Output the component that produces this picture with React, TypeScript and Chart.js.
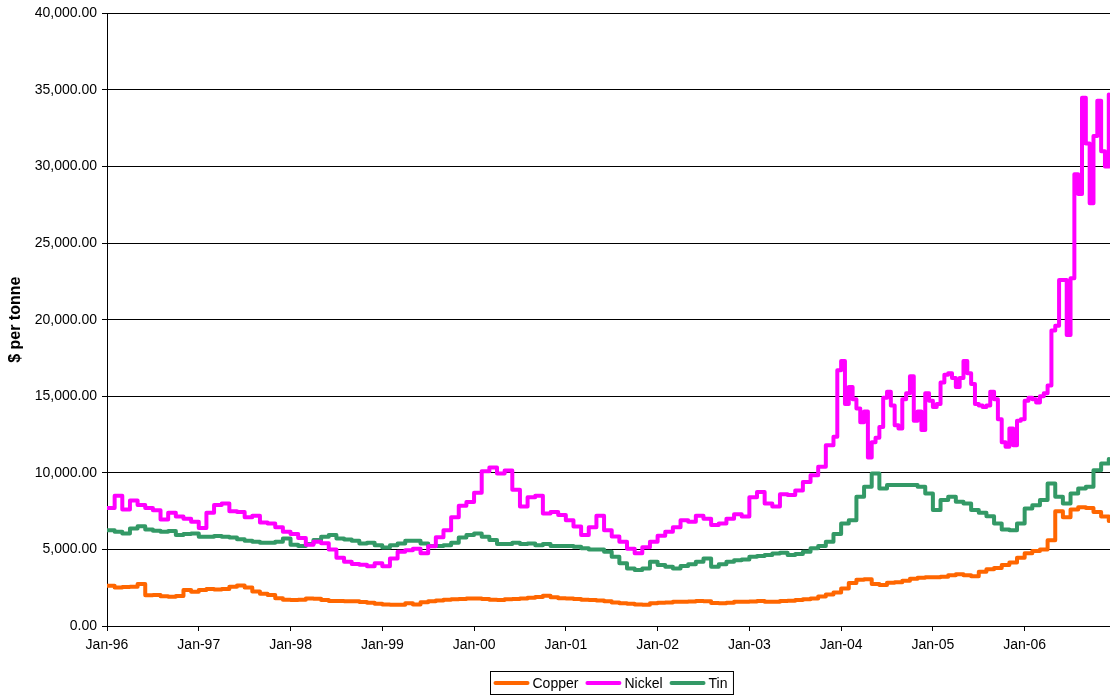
import React, { useEffect, useRef } from "react";
import { Chart, registerables } from "chart.js";

Chart.register(...registerables);

// x axis: years (ticks at January of each year)
const tickYears = [1996, 1997, 1998, 1999, 2000, 2001, 2002, 2003, 2004, 2005, 2006];
const tickLabels = ["Jan-96", "Jan-97", "Jan-98", "Jan-99", "Jan-00", "Jan-01", "Jan-02", "Jan-03", "Jan-04", "Jan-05", "Jan-06"];
const startYear = 1996;
const endYear = 2006.93;

// monthly copper, Jan-96 .. Dec-06
const copper = [
  2630, 2520, 2540, 2560, 2750, 2000, 2020, 1950, 1910, 1960, 2350, 2240,
  2350, 2420, 2390, 2420, 2560, 2650, 2520, 2250, 2100, 2020, 1820, 1720,
  1700, 1720, 1790, 1780, 1700, 1640, 1640, 1620, 1610, 1560, 1520, 1450,
  1400, 1380, 1390, 1480, 1400, 1550, 1620, 1660, 1720, 1740, 1760, 1800,
  1800, 1760, 1720, 1700, 1740, 1760, 1800, 1850, 1900, 1980, 1880, 1820,
  1800, 1770, 1720, 1700, 1660, 1620, 1540, 1480, 1460, 1400, 1380, 1480,
  1520, 1540, 1590, 1590, 1600, 1630, 1620, 1500, 1480, 1510, 1580, 1590,
  1600, 1640, 1580, 1590, 1630, 1650, 1700, 1750, 1800, 1920, 2050, 2180,
  2450, 2800, 3020, 3050, 2750, 2680, 2820, 2850, 2960, 3080, 3150, 3180,
  3180, 3220, 3320, 3380, 3320, 3250, 3550, 3700, 3780, 3980, 4150, 4450,
  4750, 4900, 5000, 5600, 7500, 7100, 7600, 7750, 7700, 7450, 7150, 6850,
];

// monthly nickel, Jan-96 .. Nov-03
const nickelMonthly = [
  7700, 8500, 7600, 8200, 7900, 7700, 7550, 6950, 7400, 7150, 7000, 6800,
  6400, 7400, 7900, 8000, 7500, 7450, 7100, 7200, 6750, 6700, 6450, 6150,
  6000, 5750, 5300, 5500, 5400, 5000, 4450, 4200, 4050, 4000, 3900, 4100,
  3900, 4400, 4850, 4950, 5050, 4750, 5200, 5800, 6250, 7100, 7850, 8100,
  8700, 10100, 10350, 9950, 10150, 8900, 7800, 8400, 8500, 7350, 7450, 7250,
  6900, 6500, 5950, 6450, 7200, 6250, 5850, 5500, 5050, 4750, 5150, 5500,
  5900, 6150, 6450, 6900, 6800, 7200, 7000, 6600, 6700, 7000, 7300, 7150,
  8400, 8750, 8000, 7800, 8600, 8550, 8850, 9400, 9850, 10400, 11800,
];

// half-monthly nickel, Dec-03 (1st half) .. Dec-06 (1st half)
const nickelHalfMonthly = [
  12350, 16700,
  17300, 14500, 15600, 14800, 14200, 13300, 14000, 11000, 12000, 12300, 13000, 14900,
  15300, 14400, 13100, 12900, 14800, 15200, 16300, 13400, 14000, 12800, 15200, 14700,
  14300, 14500, 15900, 16400, 16500, 16200, 15600, 16200, 17300, 16500, 15800, 14500,
  14400, 14300, 14400, 15300, 14800, 13500, 12000, 11700, 12900, 11800, 13400, 13500,
  14700, 14900, 14800, 14600, 15000, 15200, 15700, 19300, 19600, 22600, 22600, 19000,
  22700, 29500, 28200, 34500, 31500, 27600, 32000, 34300, 31000, 30000, 34700,
];

// monthly tin, Jan-96 .. Dec-06
const tin = [
  6260, 6150, 6040, 6370, 6520, 6300, 6220, 6150, 6200, 5940, 6000, 6040,
  5830, 5830, 5870, 5830, 5780, 5670, 5570, 5500, 5440, 5440, 5500, 5720,
  5300, 5220, 5350, 5610, 5830, 5940, 5720, 5650, 5570, 5390, 5440, 5280,
  5130, 5280, 5390, 5570, 5570, 5390, 5220, 5220, 5280, 5440, 5780, 5940,
  6040, 5830, 5610, 5350, 5350, 5440, 5350, 5390, 5280, 5350, 5220, 5220,
  5220, 5170, 5070, 5000, 5000, 4850, 4520, 4090, 3760, 3650, 3760, 4200,
  3980, 3870, 3760, 3910, 4040, 4200, 4410, 3870, 4040, 4200, 4300, 4350,
  4520, 4570, 4630, 4740, 4780, 4630, 4700, 4850, 5070, 5220, 5500, 6000,
  6700, 6910, 8440, 9090, 9960, 8980, 9200, 9200, 9200, 9200, 9090, 8650,
  7570, 8220, 8440, 8110, 8000, 7570, 7390, 7170, 6700, 6300, 6260, 6700,
  7670, 7890, 8220, 9300, 8440, 8000, 8650, 8980, 9090, 10170, 10610, 10900,
];

const seriesNames = ["Copper", "Nickel", "Tin"];
const seriesColors = ["#FF6600", "#FF00FF", "#339966"];
const yTitle = "$ per tonne";

const FONT = '"Liberation Sans", Arial, sans-serif';

const monthly = (vals: number[]) => vals.map((y, i) => ({ x: startYear + i / 12, y }));
const nickelPoints = [
  ...monthly(nickelMonthly),
  ...nickelHalfMonthly.map((y, j) => ({ x: startYear + nickelMonthly.length / 12 + j / 24, y })),
];

const boxLegend = {
  id: "boxLegend",
  afterDraw(chart: any) {
    const ctx = chart.ctx as CanvasRenderingContext2D;
    const area = chart.chartArea;
    const ds = chart.data.datasets;
    ctx.save();
    ctx.font = `14px ${FONT}`;
    const lineLen = 36;
    const padL = 3;
    const gapLineText = 3;
    const gapItems = 7;
    const padR = 6;
    const widths = ds.map((d: any) => ctx.measureText(d.label).width);
    let total = padL + padR;
    widths.forEach((w: number, i: number) => {
      total += lineLen + gapLineText + w + (i < widths.length - 1 ? gapItems : 0);
    });
    const cx = (area.left + area.right) / 2 + 3;
    const left = Math.round(cx - total / 2) + 0.5;
    const top = 671.5;
    const h = 23;
    ctx.strokeStyle = "#000";
    ctx.lineWidth = 1;
    ctx.strokeRect(left, top, total, h);
    const cy = top + h / 2;
    let x = left + padL;
    ds.forEach((d: any, i: number) => {
      ctx.beginPath();
      ctx.strokeStyle = d.borderColor;
      ctx.lineWidth = 4;
      ctx.lineCap = "round";
      ctx.moveTo(x + 2, cy);
      ctx.lineTo(x + lineLen - 2, cy);
      ctx.stroke();
      x += lineLen + gapLineText;
      ctx.fillStyle = "#000";
      ctx.textBaseline = "middle";
      ctx.textAlign = "left";
      ctx.fillText(d.label, x, cy + 1);
      x += widths[i] + gapItems;
    });
    ctx.restore();
  },
};

export default function App() {
  const ref = useRef<HTMLCanvasElement | null>(null);
  useEffect(() => {
    if (!ref.current) return;
    const series = [monthly(copper), nickelPoints, monthly(tin)];
    const chart = new Chart(ref.current, {
      type: "line",
      data: {
        datasets: seriesNames.map((name, i) => ({
          label: name,
          data: series[i],
          borderColor: seriesColors[i],
          backgroundColor: seriesColors[i],
          borderWidth: 4,
          pointRadius: 0,
          stepped: true,
          fill: false,
          borderJoinStyle: "round" as const,
          borderCapStyle: "round" as const,
        })),
      },
      options: {
        animation: false,
        responsive: false,
        devicePixelRatio: 1,
        parsing: false,
        layout: { padding: { top: 12, left: 0, right: 0, bottom: 0 } },
        plugins: {
          legend: { display: false },
          tooltip: { enabled: false },
        },
        scales: {
          x: {
            type: "linear",
            min: startYear,
            max: endYear,
            afterFit: (s: any) => {
              s.height = 70;
            },
            afterBuildTicks: (s: any) => {
              s.ticks = tickYears.map((v) => ({ value: v }));
            },
            grid: {
              drawOnChartArea: false,
              drawTicks: true,
              tickLength: 5,
              color: "#000",
            },
            border: { color: "#000", width: 1 },
            ticks: {
              autoSkip: false,
              maxRotation: 0,
              minRotation: 0,
              padding: 6,
              color: "#000",
              font: { family: FONT, size: 14 },
              callback: (v: any) => {
                const k = tickYears.indexOf(Math.round(Number(v)));
                return k >= 0 ? tickLabels[k] : "";
              },
            },
          },
          y: {
            min: 0,
            max: 40000,
            afterFit: (s: any) => {
              s.width = 107;
            },
            grid: { color: "#000", lineWidth: 1, tickLength: 5 },
            border: { color: "#000", width: 1 },
            ticks: {
              stepSize: 5000,
              padding: 5,
              color: "#000",
              font: { family: FONT, size: 14 },
              callback: (v: any) =>
                Number(v).toLocaleString("en-US", { minimumFractionDigits: 2, maximumFractionDigits: 2 }),
            },
            title: {
              display: true,
              text: yTitle,
              color: "#000",
              font: { family: FONT, size: 16, weight: "bold" },
              padding: { top: 6, bottom: 0 },
            },
          },
        },
      },
      plugins: [boxLegend],
    });
    return () => chart.destroy();
  }, []);
  return (
    <div style={{ position: "fixed", left: 0, top: 0, width: 1110, height: 696, background: "#fff" }}>
      <canvas ref={ref} width={1110} height={696} style={{ display: "block" }} />
    </div>
  );
}
